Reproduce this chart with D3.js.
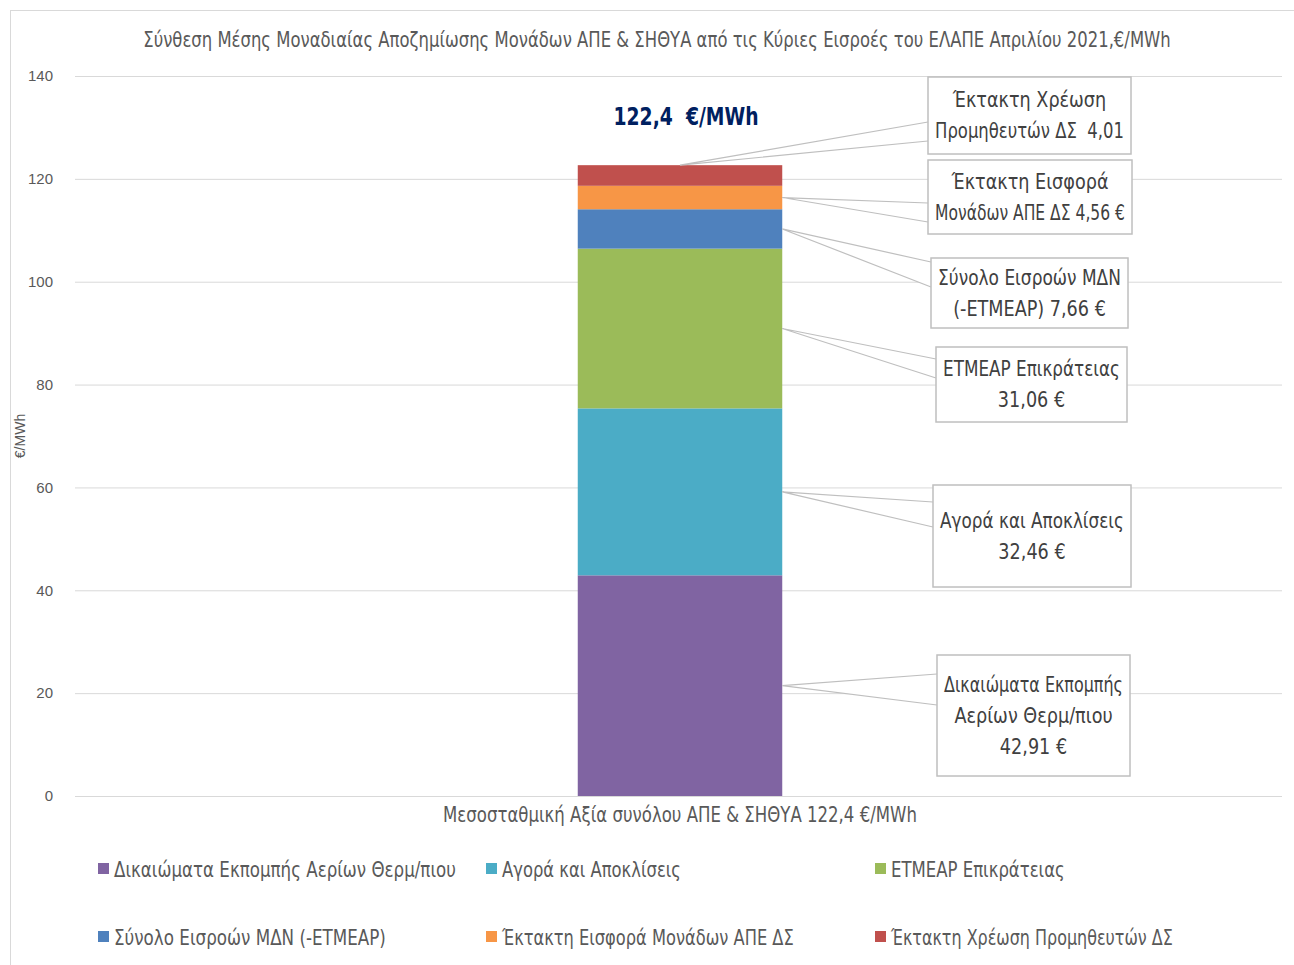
<!DOCTYPE html>
<html>
<head>
<meta charset="utf-8">
<script src="https://cdn.jsdelivr.net/npm/d3@7"></script>
<style>
  html, body { margin: 0; padding: 0; background: #fff; }
  svg { display: block; }
  text.c { font-family: "DejaVu Sans", sans-serif; white-space: pre; }
</style>
</head>
<body>
<svg id="chart" width="1294" height="965"></svg>
<script>
// ---------------- DATA ----------------
const title = "Σύνθεση Μέσης Μοναδιαίας Αποζημίωσης Μονάδων ΑΠΕ & ΣΗΘΥΑ από τις Κύριες Εισροές του ΕΛΑΠΕ Απριλίου 2021,€/MWh";
const category = "Μεσοσταθμική Αξία συνόλου ΑΠΕ & ΣΗΘΥΑ 122,4 €/MWh";
const seriesNames = [
  "Δικαιώματα Εκπομπής Αερίων Θερμ/πιου",
  "Αγορά και Αποκλίσεις",
  "ΕΤΜΕΑΡ Επικράτειας",
  "Σύνολο Εισροών ΜΔΝ (-ΕΤΜΕΑΡ)",
  "Έκτακτη Εισφορά Μονάδων ΑΠΕ ΔΣ",
  "Έκτακτη Χρέωση Προμηθευτών ΔΣ"
];
const seriesValues = [42.91, 32.46, 31.06, 7.66, 4.56, 4.01];
const seriesColors = ["#8064A2", "#4BACC6", "#9BBB59", "#4F81BD", "#F79646", "#C0504D"];
const calloutLines = [
  ["Δικαιώματα Εκπομπής", "Αερίων Θερμ/πιου", "42,91 €"],
  ["Αγορά και Αποκλίσεις", "32,46 €"],
  ["ΕΤΜΕΑΡ Επικράτειας", "31,06 €"],
  ["Σύνολο Εισροών ΜΔΝ", "(-ΕΤΜΕΑΡ) 7,66 €"],
  ["Έκτακτη Εισφορά", "Μονάδων ΑΠΕ ΔΣ 4,56 €"],
  ["Έκτακτη Χρέωση", "Προμηθευτών ΔΣ  4,01"]
];
const totalLabel = "122,4  €/MWh";
const yTicks = [0, 20, 40, 60, 80, 100, 120, 140];
const yAxisTitle = "€/MWh";

// ---------------- LAYOUT ----------------
const svg = d3.select("#chart");
const W = 1294, H = 965;
const plot = { left: 75, right: 1285, top: 76, bottom: 796 };

// callout boxes: [x, y, w, h, wedgeY1, wedgeY2]
const boxLayout = [
  [937, 655, 193, 121, 674, 705],
  [933, 485, 198, 102, 502, 527],
  [936, 347, 191, 75, 359, 378],
  [931, 258, 197, 70, 262, 287],
  [928, 160, 204, 74, 203, 222],
  [928, 77, 203, 77, 122, 141]
];

// helper: horizontally condense text (Calibri-like narrow look), never wider than maxW
const NARROW = 0.84;
function fit(sel, maxW) {
  sel.each(function () {
    const w = this.getComputedTextLength();
    const k = Math.min(NARROW, maxW / w);
    const t = d3.select(this);
    const tx = +t.attr("x"), ty = +t.attr("y");
    t.attr("x", 0).attr("y", 0).attr("transform", `translate(${tx},${ty}) scale(${k.toFixed(4)},1)`);
  });
  return sel;
}

// outer border
svg.append("rect").attr("x", 10.5).attr("y", 10.5).attr("width", W).attr("height", H)
  .attr("fill", "#fff").attr("stroke", "#d9d9d9");

const y = d3.scaleLinear().domain([0, 140]).range([plot.bottom, plot.top]);
const x = d3.scaleBand().domain([category]).range([plot.left, plot.right]).paddingInner(0.831).paddingOuter(0.4155);

// gridlines
svg.append("g").attr("transform", `translate(${plot.left},0)`)
  .call(d3.axisLeft(y).tickValues(yTicks).tickSize(-(1282 - plot.left)).tickFormat(""))
  .call(g => g.select(".domain").remove())
  .call(g => g.selectAll("line").attr("stroke", "#d9d9d9").attr("stroke-width", 1));

// y tick labels
svg.append("g").attr("transform", `translate(${plot.left},0)`)
  .call(d3.axisLeft(y).tickValues(yTicks).tickSize(0).tickPadding(22))
  .call(g => g.select(".domain").remove())
  .call(g => g.selectAll("text").attr("fill", "#595959").style("font-size", "15px")
     .style("font-family", "'Liberation Sans', Arial, sans-serif"));

// y axis title
svg.append("text").attr("transform", `translate(25,${y(70)}) rotate(-90)`)
  .attr("text-anchor", "middle").attr("fill", "#595959").style("font-size", "14px")
  .style("font-family", "'Liberation Sans', Arial, sans-serif").text(yAxisTitle);

// title
fit(svg.append("text").attr("class", "c").attr("x", 657).attr("y", 47).attr("text-anchor", "middle")
  .attr("fill", "#595959").style("font-size", "21px").text(title), 1028);

// stacked bar
let cum = 0;
const stack = seriesValues.map((v, i) => { const s = { i, y0: cum, y1: cum + v, v }; cum += v; return s; });
const bx = x(category), bw = x.bandwidth();
svg.append("g").selectAll("rect").data(stack).join("rect")
  .attr("x", bx).attr("width", bw)
  .attr("y", d => y(d.y1)).attr("height", d => y(d.y0) - y(d.y1))
  .attr("fill", d => seriesColors[d.i]);

// callouts
const cg = svg.append("g");
stack.forEach((d, i) => {
  const [bxl, byt, bwid, bht, w1, w2] = boxLayout[i];
  const isTop = i === stack.length - 1;
  const ax = isTop ? bx + bw / 2 : bx + bw;
  const ay = isTop ? y(d.y1) : y((d.y0 + d.y1) / 2);
  cg.append("path")
    .attr("d", `M${bxl},${w1} L${ax},${ay} L${bxl},${w2}`)
    .attr("fill", "#fff").attr("stroke", "#bfbfbf").attr("stroke-width", 1.2);
  cg.append("rect").attr("x", bxl).attr("y", byt).attr("width", bwid).attr("height", bht)
    .attr("fill", "#fff").attr("stroke", "#bfbfbf").attr("stroke-width", 1.5);
  const lines = calloutLines[i];
  const lh = 31;
  const cy = byt + bht / 2;
  lines.forEach((t, k) => {
    fit(cg.append("text").attr("class", "c").attr("x", bxl + bwid / 2)
      .attr("y", cy + (k - (lines.length - 1) / 2) * lh + 7)
      .attr("text-anchor", "middle").attr("fill", "#404040").style("font-size", "21px").text(t), bwid - 14);
  });
});

// total label
fit(svg.append("text").attr("class", "c").attr("x", bx + bw / 2 + 6).attr("y", y(122.66) - 40).attr("text-anchor", "middle")
  .attr("fill", "#002060").style("font-size", "25px").style("font-weight", "bold").text(totalLabel), 145);

// category label
fit(svg.append("text").attr("class", "c").attr("x", bx + bw / 2).attr("y", 822).attr("text-anchor", "middle")
  .attr("fill", "#595959").style("font-size", "21px").text(category), 474);

// legend
const legX = [98, 486, 875];
const legY = [869, 937];
const legW = [342, 179, 174, 272, 292, 282];
const lg = svg.append("g");
seriesNames.forEach((n, i) => {
  const lx = legX[i % 3], ly = legY[Math.floor(i / 3)];
  lg.append("rect").attr("x", lx).attr("y", ly - 6).attr("width", 11).attr("height", 11).attr("fill", seriesColors[i]);
  fit(lg.append("text").attr("class", "c").attr("x", lx + 16).attr("y", ly + 8).attr("fill", "#595959")
    .style("font-size", "21px").text(n), legW[i]);
});
</script>
</body>
</html>
